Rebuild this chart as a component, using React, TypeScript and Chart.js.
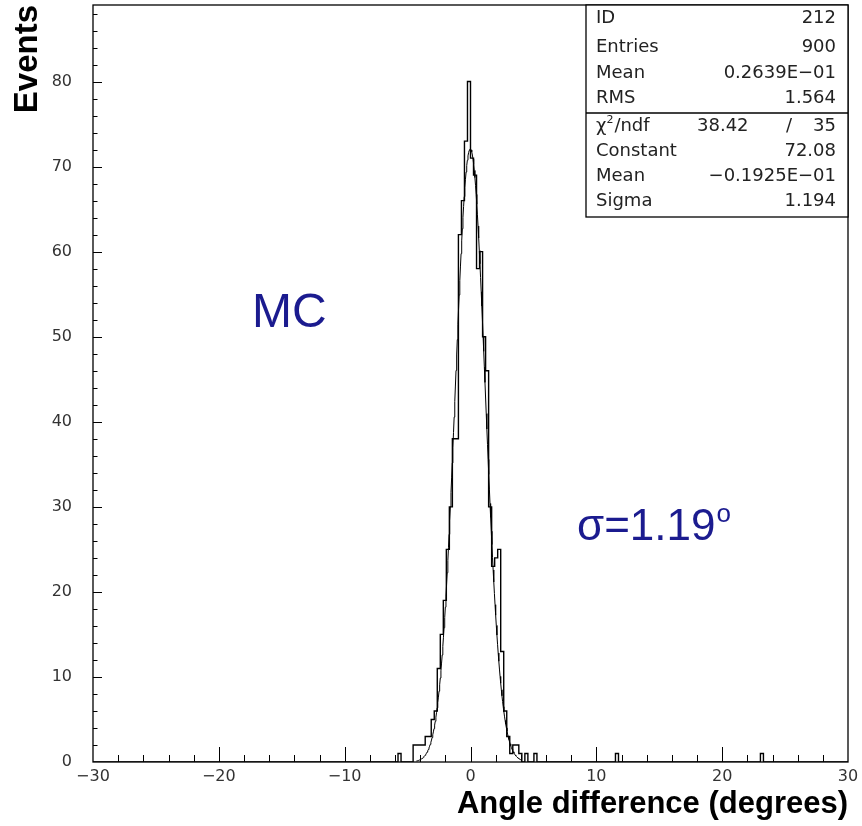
import React, { useEffect, useRef } from "react";
import { Chart, registerables } from "chart.js";

Chart.register(...registerables);

// ---- axis ranges & ticks ----
const X_MIN = -30;
const X_MAX = 30;
const Y_MIN = 0;
const Y_MAX = 89;
const xTickValues = [-30, -20, -10, 0, 10, 20, 30];
const yTickValues = [0, 10, 20, 30, 40, 50, 60, 70, 80];
const X_MINOR_STEP = 2;
const Y_MINOR_STEP = 2;

// ---- histogram (250 bins of 0.24 from -30 to 30) ----
const BIN_LOW = -30;
const BIN_WIDTH = 0.24;
const N_BINS = 250;
const FIRST_BIN = 101; // index of first entry in binCounts
const binCounts = [
  1, 0, 0, 0, 0, 2, 2, 2, 2, 3,
  3, 5, 6, 11, 15, 19, 25, 30, 38, 38,
  62, 66, 73, 80, 71, 69, 58, 60, 50, 46,
  30, 23, 24, 25, 13, 6, 3, 1, 2, 2,
  1, 0, 1, 0, 0, 1,
];
const outlierBins = [173, 221];
const outlierCounts = [1, 1];

// ---- gaussian fit (parameters from the stats box) ----
const FIT_CONSTANT = 72.08;
const FIT_MEAN = -0.01925;
const FIT_SIGMA = 1.194;
const FIT_FROM = -4.3;
const FIT_TO = 4.0;
const FIT_STEP = 0.05;

// ---- stats box ----
const statsLabels = ["ID", "Entries", "Mean", "RMS"];
const statsValues = ["212", "900", "0.2639E\u221201", "1.564"];
const fitLabels = ["Constant", "Mean", "Sigma"];
const fitValues = ["72.08", "\u22120.1925E\u221201", "1.194"];
const chi2Value = "38.42";
const ndfValue = "35";

// ---- annotations ----
const mcText = "MC";
const sigmaText = "\u03c3=1.19";
const degreeText = "o";

const AXIS_FONT = "DejaVu Sans";
const TITLE_FONT = "Liberation Sans";
const ANNOT_COLOR = "#1b1b8f";

function fmtTick(v: number): string {
  return v < 0 ? "\u2212" + Math.abs(v) : String(v);
}

const decorPlugin = {
  id: "pawDecor",
  afterDraw(chart: any) {
    const { ctx, chartArea } = chart;
    const xs = chart.scales.x;
    const ys = chart.scales.y;
    const { left, right, top, bottom } = chartArea;
    ctx.save();
    // frame
    ctx.strokeStyle = "#000";
    ctx.lineWidth = 1.3;
    ctx.strokeRect(left, top, right - left, bottom - top);

    // x ticks (inside)
    ctx.lineWidth = 1;
    ctx.beginPath();
    for (let v = X_MIN + X_MINOR_STEP; v < X_MAX; v += X_MINOR_STEP) {
      const px = Math.round(xs.getPixelForValue(v)) + 0.5;
      const len = v % 10 === 0 ? 15 : 7;
      ctx.moveTo(px, bottom);
      ctx.lineTo(px, bottom - len);
    }
    // y ticks (inside)
    for (let v = Y_MIN + Y_MINOR_STEP; v <= Y_MAX; v += Y_MINOR_STEP) {
      const py = Math.round(ys.getPixelForValue(v)) + 0.5;
      const len = v % 10 === 0 ? 9 : 4.5;
      ctx.moveTo(left, py);
      ctx.lineTo(left + len, py);
    }
    ctx.stroke();

    // stats box
    const bx = 586;
    const by = top;
    const bw = right - bx;
    const sep = 113;
    const bb = 217;
    ctx.fillStyle = "#fff";
    ctx.fillRect(bx, by, bw, bb - by);
    ctx.lineWidth = 1.3;
    ctx.strokeRect(bx, by, bw, bb - by);
    ctx.beginPath();
    ctx.moveTo(bx, sep);
    ctx.lineTo(right, sep);
    ctx.stroke();

    ctx.fillStyle = "#222";
    ctx.font = `18px "${AXIS_FONT}"`;
    ctx.textBaseline = "middle";
    const rowsTop = [18, 47, 73, 98];
    statsLabels.forEach((lab, i) => {
      ctx.textAlign = "left";
      ctx.fillText(lab, bx + 10, rowsTop[i]);
      ctx.textAlign = "right";
      ctx.fillText(statsValues[i], right - 12, rowsTop[i]);
    });
    // chi2 row
    const chiY = 126;
    ctx.textAlign = "left";
    ctx.fillText("\u03c7", bx + 10, chiY);
    const chiW = ctx.measureText("\u03c7").width;
    ctx.font = `11px "${AXIS_FONT}"`;
    ctx.fillText("2", bx + 10 + chiW, chiY - 6);
    const twoW = ctx.measureText("2").width;
    ctx.font = `18px "${AXIS_FONT}"`;
    ctx.fillText("/ndf", bx + 10 + chiW + twoW + 1, chiY);
    ctx.fillText(chi2Value, 697, chiY);
    ctx.fillText("/", 786, chiY);
    ctx.textAlign = "right";
    ctx.fillText(ndfValue, right - 12, chiY);
    const rowsFit = [151, 176, 201];
    fitLabels.forEach((lab, i) => {
      ctx.textAlign = "left";
      ctx.fillText(lab, bx + 10, rowsFit[i]);
      ctx.textAlign = "right";
      ctx.fillText(fitValues[i], right - 12, rowsFit[i]);
    });

    // annotations
    ctx.fillStyle = ANNOT_COLOR;
    ctx.textAlign = "left";
    ctx.textBaseline = "alphabetic";
    ctx.font = `48px "${TITLE_FONT}"`;
    ctx.fillText(mcText, 252, 327);
    ctx.font = `44px "${TITLE_FONT}"`;
    ctx.fillText(sigmaText, 577, 540);
    const sw = ctx.measureText(sigmaText).width;
    ctx.font = `26px "${TITLE_FONT}"`;
    ctx.fillText(degreeText, 577 + sw + 1, 522);
    ctx.restore();
  },
};

export default function App() {
  const canvasRef = useRef<HTMLCanvasElement | null>(null);

  useEffect(() => {
    document.body.style.margin = "0";
    const canvas = canvasRef.current;
    if (!canvas) return;

    const counts: number[] = new Array(N_BINS).fill(0);
    binCounts.forEach((c, i) => {
      counts[FIRST_BIN + i] = c;
    });
    outlierBins.forEach((b, i) => {
      counts[b] = outlierCounts[i];
    });
    const histPoints = counts.map((c, k) => ({ x: BIN_LOW + k * BIN_WIDTH, y: c }));
    histPoints.push({ x: BIN_LOW + N_BINS * BIN_WIDTH, y: 0 });

    const fitPoints: { x: number; y: number }[] = [];
    for (let v = FIT_FROM; v <= FIT_TO + 1e-9; v += FIT_STEP) {
      const z = (v - FIT_MEAN) / FIT_SIGMA;
      fitPoints.push({ x: v, y: FIT_CONSTANT * Math.exp(-0.5 * z * z) });
    }

    const tickFont = { family: AXIS_FONT, size: 16 };
    const chart = new Chart(canvas, {
      type: "line",
      data: {
        datasets: [
          {
            data: histPoints,
            stepped: true,
            borderColor: "#000",
            borderWidth: 1.4,
            pointRadius: 0,
            fill: false,
          },
          {
            data: fitPoints,
            borderColor: "#000",
            borderWidth: 1,
            pointRadius: 0,
            tension: 0,
            fill: false,
          },
        ],
      },
      options: {
        animation: false,
        responsive: false,
        devicePixelRatio: 1,
        layout: { padding: { top: 5, right: 14, left: 0, bottom: 0 } },
        plugins: {
          legend: { display: false },
          tooltip: { enabled: false },
        },
        scales: {
          x: {
            type: "linear",
            min: X_MIN,
            max: X_MAX,
            afterBuildTicks: (s: any) => {
              s.ticks = xTickValues.map((v) => ({ value: v }));
            },
            afterFit: (s: any) => {
              s.height = 64;
              s.paddingLeft = 0;
              s.paddingRight = 0;
              s.paddingTop = 0;
              s.paddingBottom = 0;
            },
            ticks: {
              autoSkip: false,
              maxRotation: 0,
              padding: 5,
              color: "#333",
              font: tickFont,
              callback: (v: any) => fmtTick(Number(v)),
            },
            grid: { display: false, drawTicks: false },
            border: { display: false },
            title: {
              display: true,
              text: "Angle difference (degrees)",
              align: "end",
              color: "#000",
              font: { family: TITLE_FONT, size: 31, weight: "bold", lineHeight: 1.2 },
              padding: { top: 0, bottom: 3 },
            },
          },
          y: {
            type: "linear",
            min: Y_MIN,
            max: Y_MAX,
            afterBuildTicks: (s: any) => {
              s.ticks = yTickValues.map((v) => ({ value: v }));
            },
            afterFit: (s: any) => {
              s.width = 93;
              s.paddingLeft = 0;
              s.paddingRight = 0;
              s.paddingTop = 0;
              s.paddingBottom = 0;
            },
            ticks: {
              autoSkip: false,
              padding: 21,
              color: "#333",
              font: tickFont,
              callback: (v: any) => fmtTick(Number(v)),
            },
            grid: { display: false, drawTicks: false },
            border: { display: false },
            title: {
              display: true,
              text: "Events",
              align: "end",
              color: "#000",
              font: { family: TITLE_FONT, size: 33, weight: "bold", lineHeight: 1.2 },
              padding: { top: 8, bottom: 0 },
            },
          },
        },
      } as any,
      plugins: [decorPlugin],
    });

    return () => {
      chart.destroy();
    };
  }, []);

  return (
    <canvas
      ref={canvasRef}
      width={862}
      height={826}
      style={{ display: "block", width: "862px", height: "826px" }}
    />
  );
}
